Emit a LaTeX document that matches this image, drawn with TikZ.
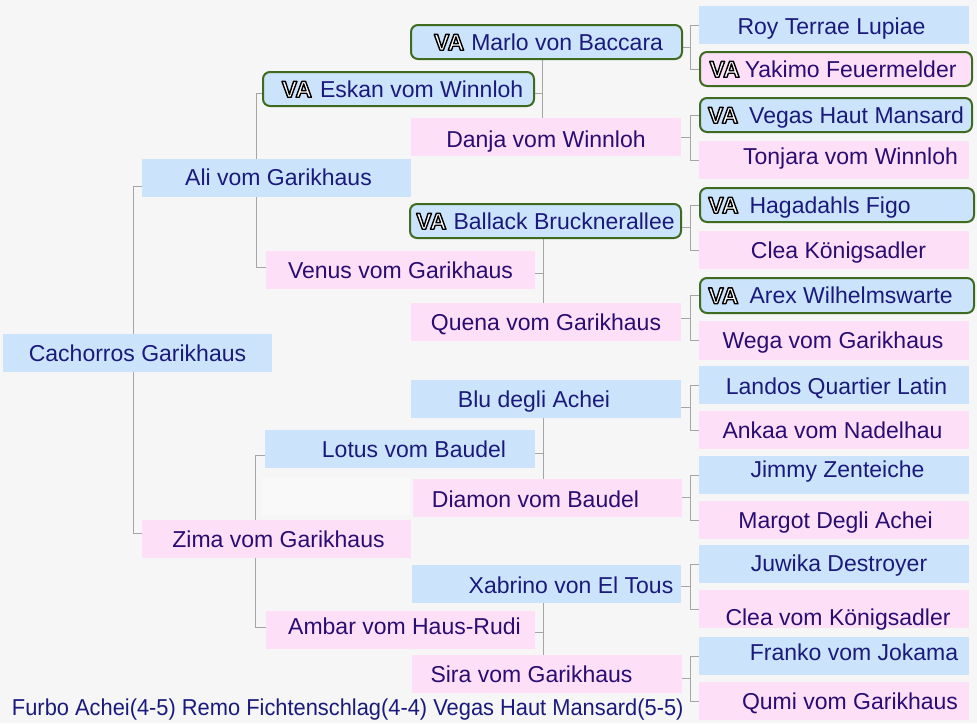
\documentclass[tikz,border=0pt]{standalone}
\usepackage{fontspec}
\setmainfont{Liberation Sans}
\usepackage{graphicx}
\usetikzlibrary{calc}
\pgfdeclarelayer{bg}
\pgfsetlayers{bg,main}
\definecolor{bgcol}{HTML}{F6F6F6}
\definecolor{ghostcol}{HTML}{F9F9F9}
\definecolor{bluefill}{HTML}{CCE4FB}
\definecolor{pinkfill}{HTML}{FDE0F7}
\definecolor{vagreen}{HTML}{3E6B1F}
\definecolor{conngray}{HTML}{A5A5A5}
\definecolor{bluetext}{HTML}{1A1A7C}
\definecolor{pinktext}{HTML}{2A0C72}
\newcommand\T[3]{\makebox[0pt]{\hspace*{#1pt}\hspace*{#1pt}\raisebox{#2pt}{#3}}}
\newcommand\outl[1]{{\color{white}\special{pdf:literal direct 0 G 1.4 w 1 j 2 Tr}#1\special{pdf:literal direct 0 Tr}}}
\newcommand\VA[1]{\outl{\bfseries VA}\hspace*{#1pt}}
\newcommand\person[9]{\node[#1, minimum width={#5-#3}, minimum height={#6-#4}] (#2) at ({(#3+#5)/2},{(#4+#6)/2}) {\T{#7}{#8}{#9}};}
\newcommand\forkA[5]{\draw[conn] ([yshift=#3pt]#1.west) -- ++(#5,0) |- ([yshift=#4pt]#2.west);}
\newcommand\forkB[4]{%
 \coordinate (g#1) at ($(#1.east)+(8.5,#4)$);
 \draw[conn] ($(#1.east)+(0,#4)$) -- (g#1);
 \draw[conn] (#2.center -| g#1) -- (#3.center -| g#1);}
\newcommand\forkC[3]{%
 \coordinate (f#1) at ($(#2.west)!0.5!(#3.west)+(-9,0)$);
 \draw[conn] (#2.west) -- (#2.west -| f#1) -- (#3.west -| f#1) -- (#3.west);
 \draw[conn] (#1.east |- f#1) -- (f#1);}
\begin{document}
\begin{tikzpicture}[x=1pt,y=-1pt,
  every node/.style={font=\fontsize{23}{27}\selectfont, inner sep=0pt, outer sep=0pt, text height=16.5pt, text depth=0pt},
  box/.style={rectangle},
  pb/.style={box, fill=bluefill, text=bluetext},
  pp/.style={box, fill=pinkfill, text=pinktext},
  vb/.style={pb, draw=vagreen, line width=2pt, rounded corners=7pt},
  vp/.style={pp, draw=vagreen, line width=2pt, rounded corners=7pt},
  conn/.style={draw=conngray, line width=1pt}]
\useasboundingbox (0,0) rectangle (977,723);
\begin{pgfonlayer}{bg}
\fill[bgcol] (0,0) rectangle (977,723);
\fill[ghostcol] (262,478) rectangle (410,515);
\end{pgfonlayer}
% generation 1
\person{pb}{cach}{3}{334}{272}{372}{0}{0}{Cachorros Garikhaus}
% generation 2
\person{pb}{ali}{142}{159}{411}{197}{2}{1}{Ali vom Garikhaus}
\person{pp}{zima}{142}{520}{411}{558}{2}{0}{Zima vom Garikhaus}
% generation 3
\person{vb}{eskan}{263}{72}{534}{106}{4}{0}{\VA{8}Eskan vom Winnloh}
\person{pp}{venus}{266}{251}{535}{289}{0}{0}{Venus vom Garikhaus}
\person{pb}{lotus}{265}{430}{535}{468}{14}{0}{Lotus vom Baudel}
\person{pp}{ambar}{266}{611}{535}{649}{4}{4}{Ambar vom Haus-Rudi}
% generation 4
\person{vb}{marlo}{411}{25}{682}{59}{2}{0}{\VA{7}Marlo von Baccara}
\person{pp}{danja}{411}{118}{681}{156}{0}{-2.5}{Danja vom Winnloh}
\person{vb}{ballack}{410}{204}{681}{238}{0}{0}{\VA{7}Ballack Brucknerallee}
\person{pp}{quena}{411}{303}{681}{341}{0}{0}{Quena vom Garikhaus}
\person{pb}{blu}{411}{380}{681}{418}{-12}{0}{Blu degli Achei}
\person{pp}{diamon}{413}{479}{682}{517}{-12}{-1.5}{Diamon vom Baudel}
\person{pb}{xab}{412}{565}{681}{603}{24.5}{-1.5}{Xabrino von El Tous}
\person{pp}{sira}{412}{655}{682}{693}{-15.5}{0}{Sira vom Garikhaus}
% generation 5
\person{pb}{roy}{699}{6}{969}{44}{-2.5}{-1}{Roy Terrae Lupiae}
\person{vp}{yak}{700}{52}{972}{86}{-3}{0}{\VA{5}Yakimo Feuermelder}
\person{vb}{vegas}{700}{98}{972}{132}{0}{0}{\VA{11}Vegas Haut Mansard}
\person{pp}{tonj}{699}{141}{969}{179}{16.5}{4}{Tonjara vom Winnloh}
\person{vb}{haga}{700}{188}{974}{222}{-27.5}{0}{\VA{11}Hagadahls Figo}
\person{pp}{clea}{699}{231}{969}{269}{4.5}{0}{Clea Königsadler}
\person{vb}{arex}{700}{278}{974}{313}{-6.5}{0}{\VA{11}Arex Wilhelmswarte}
\person{pp}{wega}{699}{321}{969}{360}{-1}{0}{Wega vom Garikhaus}
\person{pb}{landos}{699}{366}{969}{404}{2.5}{-1.5}{Landos Quartier Latin}
\person{pp}{ankaa}{699}{411}{969}{449}{-1.5}{0}{Ankaa vom Nadelhau}
\person{pb}{jimmy}{699}{456}{969}{494}{3.5}{6}{Jimmy Zenteiche}
\person{pp}{margot}{699}{501}{969}{539}{1.5}{0}{Margot Degli Achei}
\person{pb}{juwika}{699}{545}{969}{583}{5}{1}{Juwika Destroyer}
\person{pp}{cleavk}{699}{590}{969}{628}{4}{-8.5}{Clea vom Königsadler}
\person{pb}{franko}{699}{637}{969}{675}{20}{3.5}{Franko vom Jokama}
\person{pp}{qumi}{699}{682}{969}{720}{16}{0}{Qumi vom Garikhaus}
% footer
\node[anchor=base west, text=bluetext] (foot) at (12,715) {\scalebox{0.95}[1]{Furbo Achei(4-5) Remo Fichtenschlag(4-4) Vegas Haut Mansard(5-5)}};
% connectors
\begin{pgfonlayer}{bg}
\forkA{ali}{zima}{-8}{6}{-9}
\forkA{eskan}{venus}{-4}{3}{-7}
\forkA{lotus}{ambar}{-6}{3}{-10}
\forkB{eskan}{marlo}{danja}{4}
\forkB{venus}{ballack}{quena}{3}
\forkB{lotus}{blu}{diamon}{4}
\forkB{ambar}{xab}{sira}{2}
\forkC{marlo}{roy}{yak}
\forkC{danja}{vegas}{tonj}
\forkC{ballack}{haga}{clea}
\forkC{quena}{arex}{wega}
\forkC{blu}{landos}{ankaa}
\forkC{diamon}{jimmy}{margot}
\forkC{xab}{juwika}{cleavk}
\forkC{sira}{franko}{qumi}
\end{pgfonlayer}
\end{tikzpicture}
\end{document}
